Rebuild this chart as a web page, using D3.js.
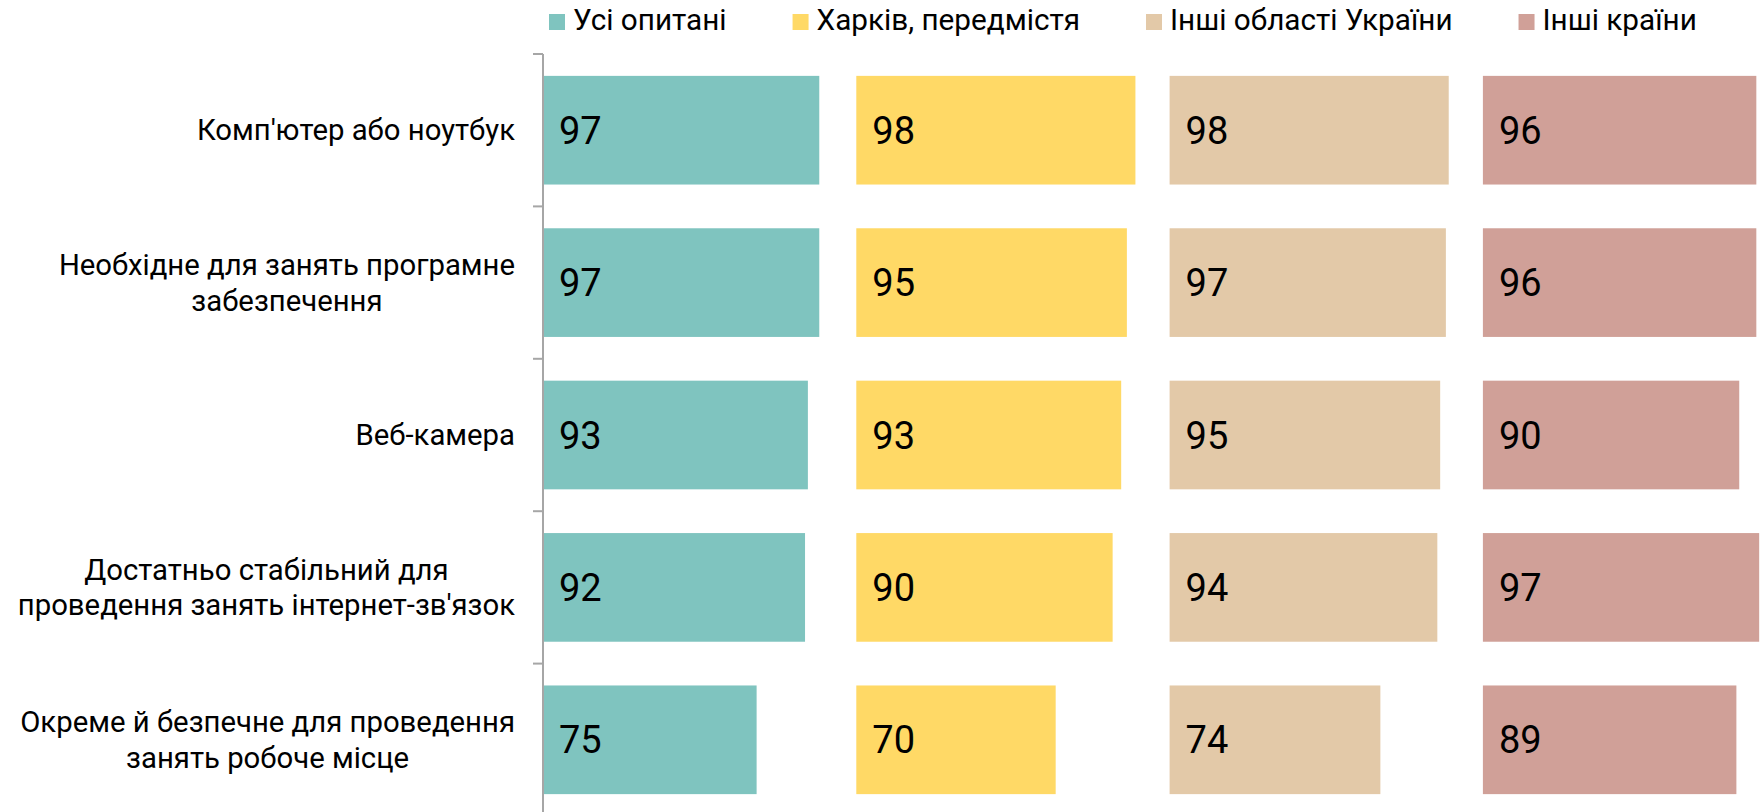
<!DOCTYPE html>
<html>
<head>
<meta charset="utf-8">
<script src="https://cdn.jsdelivr.net/npm/d3@7"></script>
<style>
	body { margin: 0; background: #fff; }
	svg text { font-family: Roboto, "Noto Sans", sans-serif; fill: #000; }
</style>
</head>
<body>
<div id="chart"></div>
<script>
// categories (line breaks as in the picture)
const categories = [
	"Комп'ютер або ноутбук",
	"Необхідне для занять програмне\nзабезпечення",
	"Веб-камера",
	"Достатньо стабільний для\nпроведення занять інтернет-зв'язок",
	"Окреме й безпечне для проведення\nзанять робоче місце"
];

const seriesNames = ['Усі опитані', 'Харків, передмістя', 'Інші області України', 'Інші країни'];
const seriesColors = ['#7fc4bf', '#ffd966', '#e3c9a8', '#d0a098'];

// values, % of respondents
const allRespondents = [97, 97, 93, 92, 75];
const kharkiv = [98, 95, 93, 90, 70];
const otherRegions = [98, 97, 95, 94, 74];
const otherCountries = [96, 96, 90, 97, 89];

const seriesValues = [allRespondents, kharkiv, otherRegions, otherCountries];

const width = 1761;
const height = 812;
const axisX = 543;
const panelWidth = 313.3;
const plotTop = 54;
const step = 152.4;

const svg = d3.select('#chart')
	.append('svg')
	.attr('width', width)
	.attr('height', height);

const y = d3.scaleBand()
	.domain(categories)
	.range([plotTop, plotTop + step * categories.length])
	.paddingInner(0.287)
	.paddingOuter(0.1435);

// each panel has its own 0..110 scale
const x = d3.scaleLinear()
	.domain([0, 110])
	.range([0, panelWidth]);

const panel = d3.scaleBand()
	.domain(seriesNames)
	.range([axisX, axisX + panelWidth * seriesNames.length]);

// bars + labels
seriesNames.forEach(function(name, si){
	const g = svg.append('g')
		.attr('transform', 'translate(' + panel(name) + ',0)');

	g.selectAll('rect')
		.data(seriesValues[si])
		.enter()
		.append('rect')
		.attr('x', 0)
		.attr('y', (d, i) => y(categories[i]))
		.attr('width', d => x(d))
		.attr('height', y.bandwidth())
		.style('fill', seriesColors[si]);

	g.selectAll('text')
		.data(seriesValues[si])
		.enter()
		.append('text')
		.attr('x', 16)
		.attr('y', (d, i) => y(categories[i]) + y.bandwidth() / 2 + 13.6)
		.style('font-size', '38px')
		.text(d => d);
});

// vertical axis with ticks between the categories
const axisG = svg.append('g')
	.style('stroke', '#a6a6a6')
	.style('stroke-width', '2px');

axisG.append('line')
	.attr('x1', axisX)
	.attr('x2', axisX)
	.attr('y1', plotTop)
	.attr('y2', plotTop + step * categories.length);

const tickYs = d3.range(categories.length + 1).map(i => plotTop + step * i);
axisG.selectAll('.tick')
	.data(tickYs)
	.enter()
	.append('line')
	.attr('class', 'tick')
	.attr('x1', axisX - 10)
	.attr('x2', axisX)
	.attr('y1', d => d)
	.attr('y2', d => d);

// category labels: block right-aligned, lines centered inside it
const labelRight = 515;
const lineHeight = 35.5;
categories.forEach(function(cat){
	const lines = cat.split('\n');
	const cy = y(cat) + y.bandwidth() / 2;
	const firstBase = cy + 20.5 / 2 - (lines.length - 1) * lineHeight / 2;

	const t = svg.append('g');
	const texts = t.selectAll('text')
		.data(lines)
		.enter()
		.append('text')
		.attr('y', (d, i) => firstBase + i * lineHeight)
		.style('font-size', '29.3px')
		.style('text-anchor', 'middle')
		.text(d => d);

	let maxW = 0;
	texts.each(function(){ maxW = Math.max(maxW, this.getComputedTextLength()); });
	texts.attr('x', labelRight - maxW / 2);
});

// legend, items laid out one after another
const legend = svg.append('g');
let lx = 549;
seriesNames.forEach(function(name, si){
	legend.append('rect')
		.attr('x', lx)
		.attr('y', 14)
		.attr('width', 16)
		.attr('height', 16)
		.style('fill', seriesColors[si]);

	const txt = legend.append('text')
		.attr('x', lx + 24)
		.attr('y', 30)
		.style('font-size', '29.7px')
		.text(name);

	lx += 24 + txt.node().getComputedTextLength() + 66;
});
</script>
</body>
</html>
